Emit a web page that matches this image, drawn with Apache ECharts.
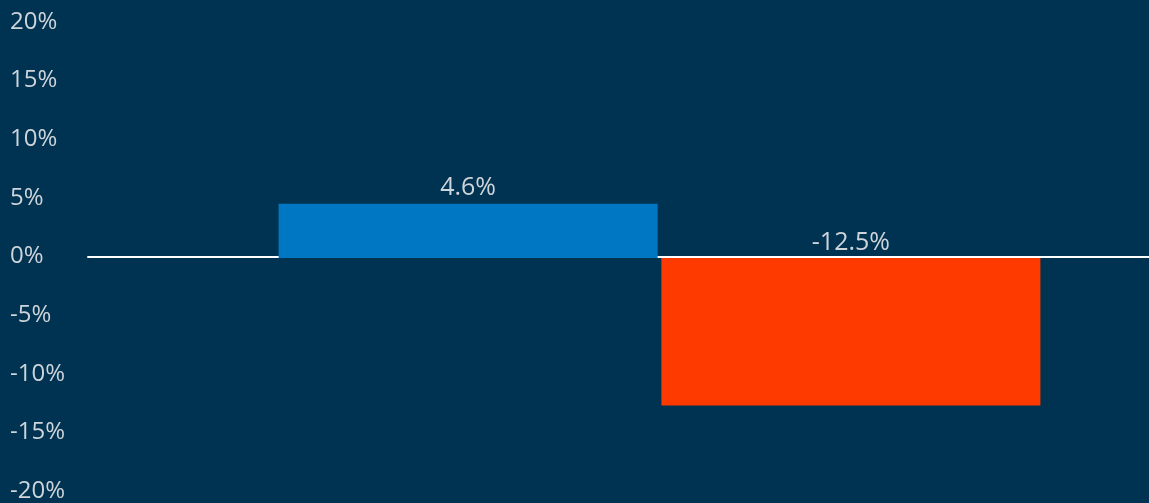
<!DOCTYPE html>
<html><head><meta charset="utf-8">
<script src="https://cdn.jsdelivr.net/npm/echarts@6/dist/echarts.min.js"></script>
<style>html,body{margin:0;padding:0;background:#003352;}#c{width:1149px;height:503px;}</style>
</head><body><div id="c"></div>
<script>
const categories = [''];
const seriesNames = ['A', 'B'];
const valuesA = [4.6];
const valuesB = [-12.5];
const yTicks = [-20, -15, -10, -5, 0, 5, 10, 15, 20];

const chart = echarts.init(document.getElementById('c'));
const textColor = '#cdd4da';
const labelStyle = {show: true, position: 'top', distance: 3, color: textColor, fontSize: 25, fontFamily: 'Open Sans', formatter: p => p.value + '%'};
const yMin = yTicks[0], yMax = yTicks[yTicks.length - 1];
chart.setOption({
  backgroundColor: '#003352',
  animation: false,
  grid: [
    {left: 88, right: 0, top: 22, bottom: 9},
    {left: 170, right: 0, top: 22, bottom: 9}
  ],
  xAxis: [
    {gridIndex: 0, type: 'category', data: categories, axisTick: {show: false}, axisLabel: {show: false},
      axisLine: {show: true, onZero: true, lineStyle: {color: '#ffffff', width: 2}}},
    {gridIndex: 1, type: 'category', data: categories, axisTick: {show: false}, axisLabel: {show: false}, axisLine: {show: false}}
  ],
  yAxis: [
    {gridIndex: 0, type: 'value', min: yMin, max: yMax, interval: 5,
      splitLine: {show: false}, axisLine: {show: false}, axisTick: {show: false},
      axisLabel: {align: 'left', margin: 78, color: textColor, fontSize: 24, fontFamily: 'Open Sans', formatter: v => v + '%'}},
    {gridIndex: 1, type: 'value', min: yMin, max: yMax, interval: 5, show: false}
  ],
  series: [
    {name: seriesNames[0], type: 'bar', xAxisIndex: 1, yAxisIndex: 1, data: valuesA, barWidth: 379, barGap: '1%', itemStyle: {color: '#0077c2'}, label: labelStyle, z: 1},
    {name: seriesNames[1], type: 'bar', xAxisIndex: 1, yAxisIndex: 1, data: valuesB, barWidth: 379, barGap: '1%', itemStyle: {color: '#ff3a00'}, label: labelStyle, z: 1}
  ]
});
</script></body></html>
